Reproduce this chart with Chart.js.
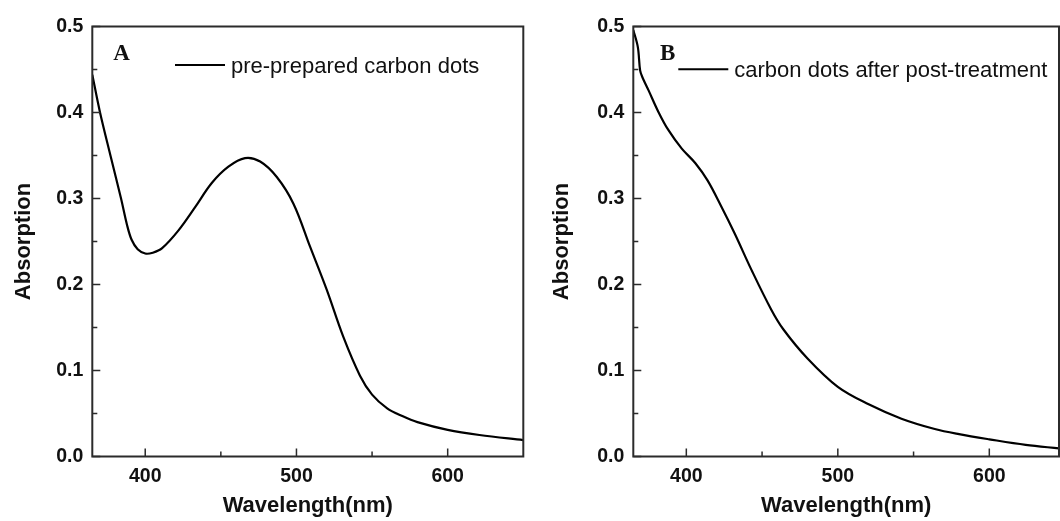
<!DOCTYPE html>
<html>
<head>
<meta charset="utf-8">
<script src="https://cdn.jsdelivr.net/npm/chart.js@4.4.1/dist/chart.umd.min.js"></script>
<style>
  html, body { margin: 0; padding: 0; background: #fff; }
  body { width: 1060px; height: 521px; position: relative; overflow: hidden; }
  #wrapA { position: absolute; left: 0; top: 0; width: 530px; height: 521px; }
  #wrapB { position: absolute; left: 540px; top: 0; width: 520px; height: 521px; }
</style>
</head>
<body>
<div id="wrapA"><canvas id="chartA" width="530" height="521"></canvas></div>
<div id="wrapB"><canvas id="chartB" width="520" height="521"></canvas></div>
<script>
// spectrum A: pre-prepared carbon dots
const wavelengthA = [365, 370, 377, 384, 388, 391, 395, 400, 405, 411, 422, 433, 444, 455, 466,
  476, 487, 498, 509, 520, 531, 542, 550, 560, 570, 580, 600, 621, 650];
const absorbA = [0.444, 0.401, 0.350, 0.300, 0.269, 0.252, 0.241, 0.236, 0.237, 0.242, 0.263,
  0.290, 0.318, 0.337, 0.347, 0.343, 0.325, 0.294, 0.244, 0.194, 0.139, 0.094, 0.072, 0.056,
  0.047, 0.040, 0.031, 0.025, 0.019];

// spectrum B: carbon dots after post-treatment
const wavelengthB = [365, 368, 369.5, 371, 375, 381.5, 388, 397, 406, 414, 423, 432, 443, 456,
  464, 480, 500, 520, 542, 564, 580, 600, 624, 646];
const absorbB = [0.496, 0.476, 0.449, 0.441, 0.426, 0.401, 0.380, 0.358, 0.341, 0.321, 0.291,
  0.259, 0.217, 0.171, 0.148, 0.114, 0.081, 0.061, 0.044, 0.032, 0.026, 0.020, 0.0135, 0.0095];

const xTicks = [400, 500, 600];
const xMinorTicks = [450, 550];
const yTicks = [0, 0.1, 0.2, 0.3, 0.4, 0.5];
const yMinorTicks = [0.05, 0.15, 0.25, 0.35, 0.45];

const labelA = 'A';
const labelB = 'B';
const legendA = 'pre-prepared carbon dots';
const legendB = 'carbon dots after post-treatment';

const INK = '#111';
const FRAME = '#2b2b2b';

// frame, inward ticks, panel letter and legend
const framePlugin = {
  id: 'frame',
  afterDatasetsDraw(chart, args, opts) {
    const { ctx, chartArea: a, scales } = chart;
    const xs = scales.x, ys = scales.y;
    ctx.save();
    ctx.strokeStyle = FRAME;
    ctx.lineWidth = 2;
    ctx.strokeRect(a.left, a.top, a.right - a.left, a.bottom - a.top);

    ctx.lineWidth = 1.5;
    ctx.beginPath();
    xTicks.forEach(v => {
      const px = xs.getPixelForValue(v);
      ctx.moveTo(px, a.bottom); ctx.lineTo(px, a.bottom - 8);
    });
    xMinorTicks.forEach(v => {
      const px = xs.getPixelForValue(v);
      ctx.moveTo(px, a.bottom); ctx.lineTo(px, a.bottom - 5);
    });
    yTicks.forEach(v => {
      const py = ys.getPixelForValue(v);
      ctx.moveTo(a.left, py); ctx.lineTo(a.left + 8, py);
    });
    yMinorTicks.forEach(v => {
      const py = ys.getPixelForValue(v);
      ctx.moveTo(a.left, py); ctx.lineTo(a.left + 5, py);
    });
    ctx.stroke();

    // panel letter
    ctx.fillStyle = INK;
    ctx.font = 'bold 23px "Liberation Serif", "Times New Roman", serif';
    ctx.textBaseline = 'alphabetic';
    ctx.textAlign = 'left';
    ctx.fillText(opts.letter, a.left + opts.letterDx, a.top + 33.5);

    // legend
    const ly = a.top + opts.legendDy;
    ctx.strokeStyle = '#000';
    ctx.lineWidth = 2;
    ctx.beginPath();
    ctx.moveTo(a.left + opts.legendX0, ly);
    ctx.lineTo(a.left + opts.legendX0 + 50, ly);
    ctx.stroke();
    ctx.font = '22px "Liberation Sans", Arial, sans-serif';
    ctx.textBaseline = 'middle';
    ctx.fillText(opts.text, a.left + opts.legendX0 + 56, ly + 1.5);
    ctx.restore();
  }
};

function makePanel(canvasId, wl, ab, xMax, axisWidth, padRight, titlePad, frameOpts) {
  const points = wl.map((w, i) => ({ x: w, y: ab[i] }));
  return new Chart(document.getElementById(canvasId), {
    type: 'line',
    data: {
      datasets: [{
        data: points,
        borderColor: '#000',
        borderWidth: 2.2,
        pointRadius: 0,
        fill: false,
        tension: 0.35
      }]
    },
    options: {
      responsive: false,
      animation: false,
      events: [],
      layout: { padding: { left: 0, right: padRight, top: 26.5, bottom: 0 } },
      plugins: {
        legend: { display: false },
        tooltip: { enabled: false },
        frame: frameOpts
      },
      scales: {
        x: {
          type: 'linear',
          min: 365,
          max: xMax,
          grid: { display: false, drawTicks: false },
          border: { display: false },
          afterBuildTicks: s => { s.ticks = xTicks.map(v => ({ value: v })); },
          afterFit: s => { s.height = 64.5; },
          ticks: {
            padding: 8,
            color: INK,
            font: { family: '"Liberation Sans", Arial, sans-serif', size: 19.5, weight: 'bold' },
            callback: v => String(v)
          },
          title: {
            display: true,
            text: 'Wavelength(nm)',
            color: INK,
            padding: { top: 0, bottom: 2.3 },
            font: { family: '"Liberation Sans", Arial, sans-serif', size: 22, weight: 'bold' }
          }
        },
        y: {
          type: 'linear',
          min: 0,
          max: 0.5,
          grid: { display: false, drawTicks: false },
          border: { display: false },
          afterBuildTicks: s => { s.ticks = yTicks.map(v => ({ value: v })); },
          afterFit: s => { s.width = axisWidth; },
          ticks: {
            padding: 9,
            color: INK,
            font: { family: '"Liberation Sans", Arial, sans-serif', size: 19.5, weight: 'bold' },
            callback: v => Number(v).toFixed(1)
          },
          title: {
            display: true,
            text: 'Absorption',
            color: INK,
            padding: { top: titlePad, bottom: 0 },
            font: { family: '"Liberation Sans", Arial, sans-serif', size: 22, weight: 'bold' }
          }
        }
      }
    },
    plugins: [framePlugin]
  });
}

makePanel('chartA', wavelengthA, absorbA, 650, 92.3, 6.7, 10.4,
  { letter: labelA, letterDx: 21, text: legendA, legendX0: 82.7, legendDy: 38.5 });
makePanel('chartB', wavelengthB, absorbB, 646, 93.3, 1, 8.8,
  { letter: labelB, letterDx: 26.7, text: legendB, legendX0: 45, legendDy: 42.8 });
</script>
</body>
</html>
